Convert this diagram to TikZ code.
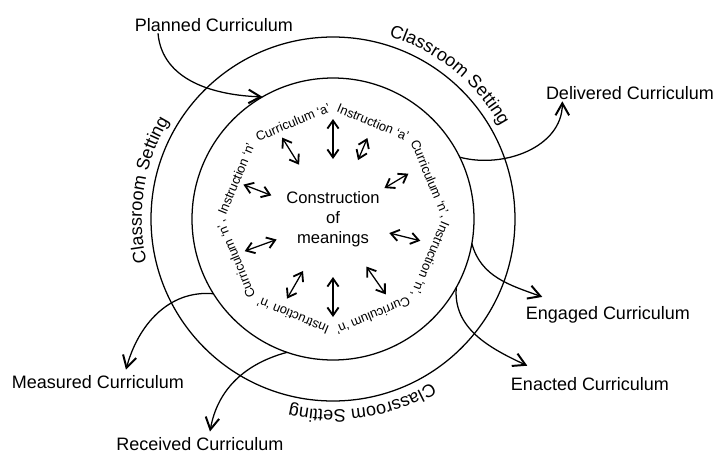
\documentclass[tikz,border=0pt]{standalone}
\usepackage{fontspec}
\setmainfont{Liberation Sans}
\usepackage{tikz}
\usetikzlibrary{calc}
\usetikzlibrary{arrows.meta}
\usetikzlibrary{decorations.text}

\begin{document}
\begin{tikzpicture} [
                ring/.style = {circle, draw, line width=0.9pt, inner sep=0, outer sep=0},
                curr/.style = {font=\fontsize{12.8}{15}\selectfont, inner sep=1pt},
                side/.style = {font=\fontsize{9.2}{11}\selectfont, inner sep=0},
                link/.style = {line width=0.9pt, -{Straight Barb[length=3mm,width=3.4mm,line width=1.4pt]}},
                both/.style = {line width=0.9pt, {Straight Barb[length=2mm,width=2.8mm,line width=1.3pt]}-{Straight Barb[length=2mm,width=2.8mm,line width=1.3pt]}},
                setting/.style = {decorate, decoration={text along path, text align=center, text={|\fontsize{12.8}{15}\selectfont|Classroom Setting}}}
            ]
            \useasboundingbox (-8.325,-5.95) rectangle (9.575,5.475);
            \node[ring, minimum size=9.1cm] (outer) at (0,0) {};
            \node[ring, minimum size=7.05cm] (inner) at (0,0) {};
            \node[align=center, font=\fontsize{11.8}{14.2}\selectfont] (mean) at (0,0) {Construction\\of\\meanings};
            % text round the centre
            \node[side, rotate=22.5] (s1) at (112.5:2.62) {Curriculum `a'};
            \node[side, rotate=-22.5] (s2) at (67.5:2.62) {Instruction `a'};
            \node[side, rotate=-67.5] (s3) at (22.5:2.62) {Curriculum `n',};
            \node[side, rotate=-112.5] (s4) at (-22.5:2.62) {Instruction `n',};
            \node[side, rotate=-157.5] (s5) at (-67.5:2.62) {Curriculum `n'};
            \node[side, rotate=157.5] (s6) at (-112.5:2.62) {Instruction `n'};
            \node[side, rotate=112.5] (s7) at (-157.5:2.62) {Curriculum `n',};
            \node[side, rotate=67.5] (s8) at (157.5:2.62) {Instruction `n'};
            \draw [both] ($(mean)+(90:1.5)$) -- ($(mean)+(90:2.5)$);
            \draw [both] ($(mean)+(67:1.6)$) -- ($(mean)+(67:2.2)$);
            \draw [both] ($(mean)+(31:1.5)$) -- ($(mean)+(31:2.2)$);
            \draw [both] ($(mean)+(-14:1.45)$) -- ($(mean)+(-14:2.25)$);
            \draw [both] ($(mean)+(-55:1.45)$) -- ($(mean)+(-55:2.3)$);
            \draw [both] ($(mean)+(-90:1.45)$) -- ($(mean)+(-90:2.45)$);
            \draw [both] ($(mean)+(240:1.5)$) -- ($(mean)+(240:2.3)$);
            \draw [both] ($(mean)+(200:1.5)$) -- ($(mean)+(200:2.35)$);
            \draw [both] ($(mean)+(159:1.65)$) -- ($(mean)+(159:2.4)$);
            \draw [both] ($(mean)+(122:1.6)$) -- ($(mean)+(122:2.4)$);
            % classroom setting
            \path[setting] (91:4.78) arc[start angle=91, end angle=11, radius=4.78];
            \path[setting] (211:4.78) arc[start angle=211, end angle=131, radius=4.78];
            \path[setting] (-41:4.78) arc[start angle=-41, end angle=-121, radius=4.78];
            % the curricula
            \node[curr] (planned) at (-2.975,4.85) {Planned Curriculum};
            \node[curr] (delivered) at (7.425,3.15) {Delivered Curriculum};
            \node[curr] (engaged) at (6.875,-2.4) {Engaged Curriculum};
            \node[curr] (enacted) at (6.425,-4.125) {Enacted Curriculum};
            \node[curr] (measured) at (-5.875,-4.075) {Measured Curriculum};
            \node[curr] (received) at (-3.325,-5.62) {Received Curriculum};
            \draw [link] ([xshift=-1.4cm]planned.south) to[out=-85, in=178] (inner.120);
            \draw [link] (inner.26) to[out=-15, in=-90] ([xshift=0.45cm]delivered.south west);
            \draw [link] (inner.-10) to[out=-75, in=160] ([xshift=0.45cm, yshift=0.2cm]engaged.north west);
            \draw [link] (inner.-29) to[out=-95, in=155] ([xshift=0.45cm, yshift=0.25cm]enacted.north west);
            \draw [link] (inner.212) to[out=175, in=75] ([xshift=0.7cm, yshift=0.1cm]measured.north);
            \draw [link] (inner.251) to[out=195, in=80] ([xshift=0.25cm, yshift=0.1cm]received.north);
        \end{tikzpicture}
\end{document}
